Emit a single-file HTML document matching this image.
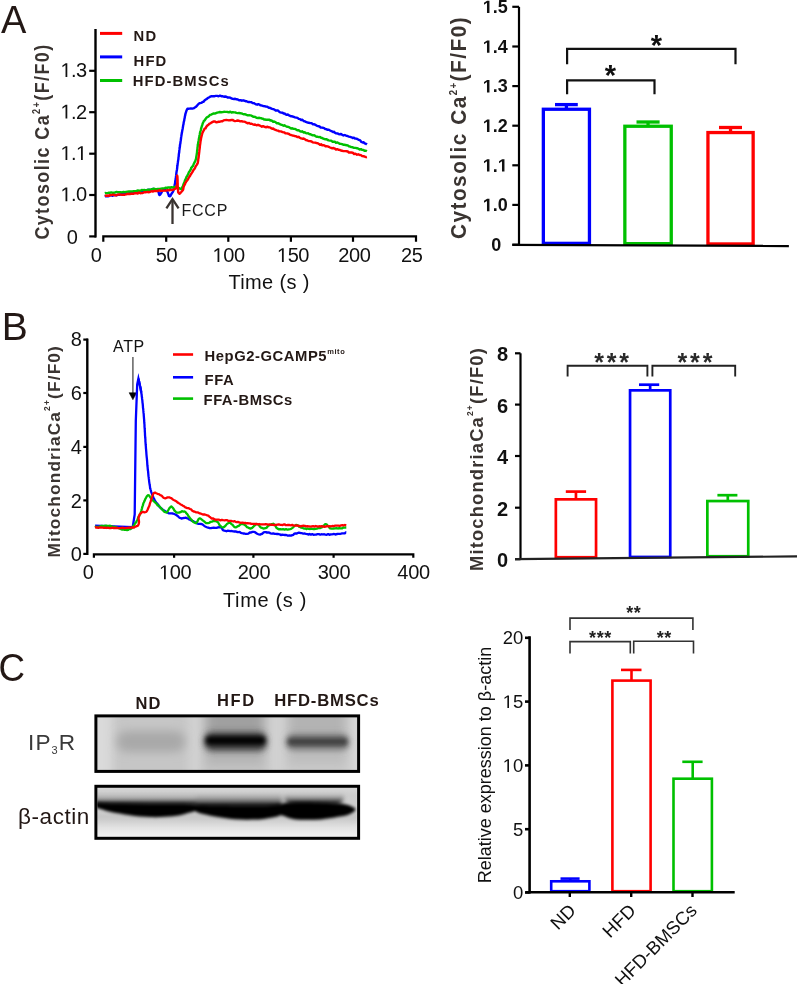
<!DOCTYPE html>
<html><head><meta charset="utf-8"><style>
html,body{margin:0;padding:0;background:#fff;}
svg{display:block;font-family:"Liberation Sans", sans-serif;filter:blur(0.35px);}
</style></head><body>
<svg width="797" height="984" viewBox="0 0 797 984">
<rect width="797" height="984" fill="#fff"/>
<text x="1" y="32.7" font-size="38" font-weight="normal" text-anchor="start" fill="#231815" letter-spacing="0" >A</text>
<line x1="95.5" y1="29" x2="95.5" y2="237.5" stroke="#000" stroke-width="2.4"/>
<line x1="89.2" y1="70.8" x2="96" y2="70.8" stroke="#000" stroke-width="2.2"/>
<line x1="89.2" y1="112.2" x2="96" y2="112.2" stroke="#000" stroke-width="2.2"/>
<line x1="89.2" y1="153.7" x2="96" y2="153.7" stroke="#000" stroke-width="2.2"/>
<line x1="89.2" y1="195.0" x2="96" y2="195.0" stroke="#000" stroke-width="2.2"/>
<line x1="89.2" y1="236.4" x2="96" y2="236.4" stroke="#000" stroke-width="2.2"/>
<text x="60.50" y="77.1" font-size="20" font-weight="normal" fill="#111" letter-spacing="-0.6"> .3</text>
<path transform="translate(60.50,77.1) scale(0.00977,-0.00977)" d="M515,0 L515,1237 L197,1010 L197,1180 L530,1409 L696,1409 L696,0 Z" fill="#111"/>
<text x="60.50" y="118.5" font-size="20" font-weight="normal" fill="#111" letter-spacing="-0.6"> .2</text>
<path transform="translate(60.50,118.5) scale(0.00977,-0.00977)" d="M515,0 L515,1237 L197,1010 L197,1180 L530,1409 L696,1409 L696,0 Z" fill="#111"/>
<text x="60.50" y="159.9" font-size="20" font-weight="normal" fill="#111" letter-spacing="-0.6"> . </text>
<path transform="translate(60.50,159.9) scale(0.00977,-0.00977)" d="M515,0 L515,1237 L197,1010 L197,1180 L530,1409 L696,1409 L696,0 Z" fill="#111"/>
<path transform="translate(75.98,159.9) scale(0.00977,-0.00977)" d="M515,0 L515,1237 L197,1010 L197,1180 L530,1409 L696,1409 L696,0 Z" fill="#111"/>
<text x="60.50" y="201.3" font-size="20" font-weight="normal" fill="#111" letter-spacing="-0.6"> .0</text>
<path transform="translate(60.50,201.3) scale(0.00977,-0.00977)" d="M515,0 L515,1237 L197,1010 L197,1180 L530,1409 L696,1409 L696,0 Z" fill="#111"/>
<text x="77.8" y="243.6" font-size="20" font-weight="normal" text-anchor="end" fill="#111" letter-spacing="0" >0</text>
<path d="M103.3,241.8 L103.3,236.4 L416,236.4 L416,241.8" stroke="#000" stroke-width="2.2" fill="none"/>
<line x1="166.2" y1="236.4" x2="166.2" y2="241.8" stroke="#000" stroke-width="2.2"/>
<line x1="228.3" y1="236.4" x2="228.3" y2="241.8" stroke="#000" stroke-width="2.2"/>
<line x1="290.9" y1="236.4" x2="290.9" y2="241.8" stroke="#000" stroke-width="2.2"/>
<line x1="353.0" y1="236.4" x2="353.0" y2="241.8" stroke="#000" stroke-width="2.2"/>
<text x="96.2" y="262" font-size="20" font-weight="normal" text-anchor="middle" fill="#111" letter-spacing="-0.4" >0</text>
<text x="166.6" y="262" font-size="20" font-weight="normal" text-anchor="middle" fill="#111" letter-spacing="-0.4" >50</text>
<text x="212.52" y="262" font-size="20" font-weight="normal" fill="#111" letter-spacing="-0.4"> 00</text>
<path transform="translate(212.52,262) scale(0.00977,-0.00977)" d="M515,0 L515,1237 L197,1010 L197,1180 L530,1409 L696,1409 L696,0 Z" fill="#111"/>
<text x="276.92" y="262" font-size="20" font-weight="normal" fill="#111" letter-spacing="-0.4"> 50</text>
<path transform="translate(276.92,262) scale(0.00977,-0.00977)" d="M515,0 L515,1237 L197,1010 L197,1180 L530,1409 L696,1409 L696,0 Z" fill="#111"/>
<text x="354.3" y="262" font-size="20" font-weight="normal" text-anchor="middle" fill="#111" letter-spacing="-0.4" >200</text>
<text x="401.0" y="262" font-size="20" font-weight="normal" text-anchor="start" fill="#111" letter-spacing="-0.4" >25</text>
<text x="228.4" y="288.6" font-size="20" font-weight="normal" text-anchor="start" fill="#111" letter-spacing="0.35" >Time (s )</text>
<line x1="100" y1="33.4" x2="122.2" y2="33.4" stroke="#ff0000" stroke-width="3"/>
<line x1="100" y1="56.9" x2="122.2" y2="56.9" stroke="#0000ff" stroke-width="3"/>
<line x1="100" y1="80.5" x2="122.2" y2="80.5" stroke="#00c000" stroke-width="3"/>
<text x="133.6" y="40.9" font-size="14.8" font-weight="bold" text-anchor="start" fill="#231815" letter-spacing="1.1" >ND</text>
<text x="133.6" y="65.7" font-size="14.8" font-weight="bold" text-anchor="start" fill="#231815" letter-spacing="1.1" >HFD</text>
<text x="132.8" y="86.4" font-size="14.8" font-weight="bold" text-anchor="start" fill="#231815" letter-spacing="1.1" >HFD-BMSCs</text>
<text transform="translate(49.0,239.6) rotate(-90) scale(0.91,1)" font-size="19.6" font-weight="bold" fill="#3a3431" letter-spacing="1.62">Cytosolic Ca<tspan font-size="10" dy="-9.5">2+</tspan><tspan dy="9.5">(F/F0)</tspan></text>
<polyline points="104.8,196.6 105.5,196.2 106.2,196.4 107.1,196.1 108.0,196.2 109.1,196.1 110.2,195.4 111.3,195.2 112.6,195.8 113.8,195.1 115.2,194.9 116.5,195.4 117.9,194.7 119.3,194.9 120.7,194.3 122.1,194.3 123.5,193.6 124.8,193.9 126.2,193.9 127.5,193.4 128.8,193.4 130.0,193.0 131.2,193.0 132.5,192.2 133.8,192.7 135.1,192.3 136.4,191.7 137.8,191.2 139.1,191.8 140.5,191.2 141.8,191.2 143.1,191.1 144.4,190.7 145.7,190.7 147.0,190.0 148.2,190.2 149.3,189.7 150.5,190.1 151.5,189.9 152.5,189.0 153.4,189.0 154.3,189.1 155.0,189.4 157.0,190.4 158.1,190.9 158.6,192.4 158.9,193.4 159.1,194.6 159.6,195.0 160.3,194.5 161.0,193.3 161.7,192.2 162.3,190.9 163.0,190.0 164.3,190.1 165.7,190.3 167.0,191.0 167.8,192.7 168.4,194.3 169.0,196.0 169.6,196.3 170.4,196.1 171.2,194.3 172.0,193.0 172.5,192.5 172.9,191.8 173.4,190.8 173.9,189.0 174.4,186.6 174.6,186.0 174.7,184.5 174.9,184.2 175.1,182.8 175.2,181.4 175.4,180.1 175.6,179.6 175.8,178.5 176.0,176.3 176.1,175.7 176.3,173.9 176.5,172.2 176.7,170.9 176.9,170.0 177.1,168.6 177.3,166.3 177.5,165.3 177.6,164.4 177.8,162.7 177.9,162.2 178.1,160.7 178.2,160.1 178.4,159.0 178.5,157.3 178.7,156.5 178.8,154.6 179.0,153.1 179.2,152.3 179.3,150.5 179.5,149.4 179.6,148.3 179.8,147.3 180.0,145.5 180.1,144.2 180.3,143.8 180.5,142.0 180.6,141.4 180.8,140.2 181.0,138.5 181.1,137.5 181.3,136.4 181.5,135.0 181.7,133.8 182.0,132.3 182.2,130.9 182.5,129.5 182.7,128.5 183.0,126.6 183.2,125.2 183.5,124.1 183.7,122.4 184.0,121.2 184.2,120.6 184.4,119.0 184.7,117.9 184.9,116.3 185.1,115.7 185.3,114.9 185.5,113.5 185.7,113.2 186.4,110.8 186.9,109.7 187.4,108.8 188.2,108.8 189.4,108.6 191.0,108.4 192.5,108.6 193.9,108.2 194.9,107.4 195.8,107.0 196.6,106.1 197.6,105.0 198.7,103.8 199.9,103.1 201.2,102.9 202.6,101.9 203.6,101.7 204.7,100.2 205.8,99.5 206.9,98.9 208.0,97.9 208.9,97.5 210.1,96.7 211.1,96.3 212.7,96.3 213.6,96.1 214.7,96.2 215.9,95.9 217.2,95.9 218.6,96.3 220.0,95.6 221.3,96.2 222.7,96.3 223.9,96.7 225.1,96.5 226.3,96.7 227.6,97.6 228.8,97.4 230.1,97.7 231.4,98.3 232.7,98.9 234.0,99.0 235.2,98.8 236.5,99.3 237.8,99.5 239.1,100.3 240.5,100.1 241.8,100.7 243.1,100.3 244.3,100.7 245.5,101.2 246.6,101.3 248.0,102.0 249.3,102.0 250.4,102.1 251.5,102.3 252.6,103.1 253.8,103.1 255.0,103.8 256.1,104.4 257.2,104.7 258.3,104.2 259.4,104.6 260.6,105.4 261.9,105.5 263.4,106.1 265.0,106.3 265.9,106.5 266.9,106.6 267.9,107.1 268.9,107.9 269.9,107.8 271.0,108.3 272.1,108.8 273.3,109.2 274.5,109.6 275.7,110.6 277.0,110.3 278.3,110.7 279.7,112.2 281.1,112.6 282.6,112.8 283.6,113.6 284.6,113.5 285.6,114.4 286.7,114.8 287.8,114.5 289.0,115.4 290.2,116.0 291.3,116.2 292.6,116.5 293.8,116.8 295.0,117.3 296.3,117.6 297.5,117.9 298.7,118.9 300.0,119.1 301.2,120.1 302.4,119.7 303.6,121.0 304.8,121.3 305.9,121.9 307.1,122.3 308.1,122.7 309.2,122.8 310.2,123.1 311.6,123.1 313.0,124.4 314.3,124.3 315.6,124.9 317.0,125.8 318.2,126.1 319.5,126.5 320.7,127.5 321.9,127.6 323.1,127.8 324.2,128.1 325.3,129.1 326.3,129.1 327.3,129.8 328.3,129.7 329.2,129.9 330.0,130.5 331.9,131.3 333.1,132.1 334.1,131.8 334.9,132.8 336.1,133.4 337.8,133.5 338.8,134.1 339.8,134.4 341.0,133.9 342.2,134.9 343.5,135.5 344.8,135.0 346.1,135.6 347.5,136.0 348.9,136.6 350.2,136.9 351.5,137.3 352.7,138.0 353.9,137.6 355.0,138.5 356.3,138.6 357.6,139.2 358.9,139.9 360.2,140.4 361.4,142.0 362.6,142.5 363.7,142.3 364.7,143.3 365.5,143.6 366.3,144.0 366.9,144.5" fill="none" stroke="#0000ff" stroke-width="2.4" stroke-linejoin="round" stroke-miterlimit="10" stroke-linecap="butt"/>
<polyline points="104.8,193.2 105.5,193.0 106.2,193.3 107.1,193.1 108.0,192.9 109.1,192.6 110.2,192.7 111.3,192.4 112.6,192.8 113.8,192.8 115.2,192.4 116.5,192.0 117.9,192.1 119.3,192.2 120.7,192.3 122.1,192.4 123.5,191.9 124.8,192.2 126.2,191.9 127.5,191.6 128.8,191.5 130.0,191.5 131.3,191.4 132.5,191.5 133.8,191.1 135.1,191.2 136.5,190.9 137.8,190.5 139.1,190.7 140.4,190.7 141.7,189.9 143.0,190.2 144.3,190.0 145.6,190.3 146.8,190.3 148.1,189.6 149.3,190.0 150.5,189.7 151.7,189.1 152.8,189.2 153.9,188.7 155.0,189.0 156.5,189.2 157.9,188.9 159.4,189.0 160.8,188.8 162.1,188.5 163.4,188.5 164.7,188.2 165.9,187.7 167.1,188.0 168.2,187.4 169.2,187.4 170.2,188.0 171.1,187.2 172.0,187.6 174.3,187.0 175.7,187.0 176.8,187.8 177.8,187.5 179.1,188.0 180.2,188.8 181.3,189.1 181.8,188.7 182.3,187.0 182.8,186.5 183.3,184.9 183.8,183.5 184.4,182.2 185.0,180.3 185.5,179.3 186.0,178.5 186.6,176.6 187.1,176.2 187.7,174.9 188.3,173.9 188.9,172.2 189.5,171.7 190.1,170.3 190.7,169.7 191.2,167.9 191.8,167.2 192.5,166.4 193.1,165.7 193.7,164.1 194.2,163.0 194.8,161.9 195.3,161.0 195.7,159.6 196.0,158.8 196.2,157.4 196.4,156.2 196.6,155.1 196.8,153.8 197.0,152.6 197.1,151.0 197.2,150.1 197.4,149.3 197.5,147.5 197.7,146.6 197.8,144.7 198.0,144.1 198.2,142.7 198.4,141.6 198.7,140.2 198.9,138.7 199.2,137.3 199.5,136.1 199.7,135.0 200.0,133.0 200.3,131.6 200.5,131.1 200.8,130.1 201.1,128.6 201.4,127.6 201.9,126.0 202.3,124.9 202.8,123.2 203.3,122.2 203.8,121.1 204.5,120.6 205.2,119.5 206.0,118.3 206.9,117.3 207.8,116.9 208.8,116.3 209.9,114.9 211.2,114.6 212.7,113.8 213.7,113.4 214.8,113.6 216.0,113.1 217.2,112.6 218.5,112.3 219.9,112.0 221.2,112.3 222.6,112.1 223.9,111.8 225.3,111.9 226.5,111.9 227.7,112.0 229.0,112.3 230.3,111.7 231.6,112.6 232.8,112.1 234.0,112.4 235.2,112.4 236.4,112.9 237.7,113.1 239.0,113.0 240.3,113.2 241.5,113.4 242.7,113.9 243.9,114.3 245.2,114.2 246.5,114.9 247.8,115.4 249.1,115.3 250.4,115.4 251.6,115.7 252.8,116.5 253.9,116.8 255.0,116.9 256.5,117.8 258.0,118.0 259.4,117.8 260.7,118.1 261.9,118.5 263.0,118.7 264.1,119.5 265.0,119.5 266.4,119.9 267.0,119.7 268.8,119.7 269.6,119.7 270.4,120.6 271.2,120.4 272.1,120.9 273.1,121.7 274.2,121.5 275.4,122.0 276.6,123.2 277.9,123.2 279.4,123.9 280.9,124.7 282.6,125.2 283.5,125.7 284.4,125.3 285.4,126.0 286.5,126.5 287.6,126.9 288.7,127.0 289.9,127.7 291.1,128.5 292.3,128.3 293.5,128.9 294.8,128.9 296.0,129.4 297.3,130.2 298.6,130.1 299.8,131.2 301.1,131.7 302.3,131.3 303.5,132.5 304.7,132.3 305.9,133.1 307.0,133.4 308.1,133.3 309.2,134.0 310.2,134.2 311.6,134.8 312.9,135.4 314.2,135.3 315.4,136.1 316.6,136.7 317.8,136.8 318.9,137.1 320.0,137.0 321.1,137.8 322.2,138.0 323.3,138.7 324.4,139.0 325.5,139.2 326.6,139.2 327.7,140.0 328.8,140.4 330.0,140.6 331.2,140.6 332.4,141.7 333.6,141.8 334.8,141.7 336.0,142.8 337.2,142.4 338.4,143.0 339.6,143.7 340.8,143.9 342.0,144.2 343.2,144.7 344.3,144.8 345.5,145.0 346.7,145.2 347.8,145.4 348.9,146.4 350.0,146.5 351.3,147.1 352.7,147.3 354.1,147.9 355.5,147.9 357.0,148.2 358.3,148.7 359.7,149.6 361.0,149.1 362.2,149.9 363.4,150.0 364.5,150.8 365.4,150.6 366.2,150.8 366.9,151.2" fill="none" stroke="#00c000" stroke-width="2.4" stroke-linejoin="round" stroke-miterlimit="10" stroke-linecap="butt"/>
<polyline points="104.8,195.7 105.5,195.6 106.2,195.7 107.1,195.8 108.0,195.4 109.1,195.8 110.2,195.0 111.3,195.1 112.6,194.8 113.8,194.8 115.2,195.4 116.5,195.2 117.9,194.6 119.3,194.5 120.7,194.6 122.1,194.9 123.5,194.8 124.8,194.7 126.2,194.4 127.5,193.9 128.8,194.0 130.0,194.0 131.3,193.6 132.5,193.8 133.8,193.7 135.1,193.2 136.4,193.1 137.7,193.5 139.0,192.5 140.3,193.2 141.5,193.1 142.8,193.0 144.1,192.3 145.4,192.3 146.6,192.1 147.9,192.0 149.1,192.2 150.3,191.8 151.5,191.2 152.7,191.6 153.9,191.1 155.0,191.0 156.4,191.0 157.9,191.0 159.3,190.2 160.8,190.9 162.2,190.8 163.6,190.6 165.1,190.6 166.4,190.5 167.8,190.2 169.0,190.4 170.2,189.8 171.4,190.1 172.4,190.0 173.4,189.5 174.2,189.3 175.0,188.8 175.9,188.4 176.5,187.1 176.9,184.8 177.2,183.8 177.3,182.0 177.3,179.7 177.2,178.5 177.2,177.1 177.1,175.9 177.1,175.7 177.2,175.6 177.3,176.4 177.4,176.4 177.5,178.0 177.5,179.0 177.6,179.9 177.6,182.1 177.7,183.5 177.7,185.5 177.8,186.9 177.9,188.5 178.0,189.5 178.1,191.2 178.2,192.3 178.4,192.6 179.6,193.8 181.2,192.1 182.6,190.4 183.1,189.9 183.3,188.8 183.5,187.3 184.0,185.8 185.0,184.1 185.4,182.9 185.9,182.2 186.5,181.2 187.1,180.5 187.8,179.6 188.5,178.3 189.2,177.0 190.0,176.0 190.7,174.4 191.5,173.4 192.2,172.4 193.0,170.9 193.7,169.6 194.3,169.2 195.0,168.0 195.5,166.7 196.0,165.9 196.4,165.3 197.5,163.5 197.8,163.0 197.9,162.0 198.2,160.3 198.3,158.9 198.5,158.2 198.6,157.6 198.8,155.7 198.9,154.8 199.1,153.1 199.3,151.7 199.4,150.2 199.6,149.0 199.8,147.3 199.9,145.8 200.1,144.5 200.3,143.2 200.4,142.3 200.6,140.8 200.8,140.2 201.1,138.0 201.4,136.9 201.7,135.5 202.0,134.6 202.4,132.9 202.8,132.2 203.3,131.2 203.9,130.2 204.6,128.6 205.5,128.4 206.4,126.6 207.5,125.4 208.5,124.8 209.5,123.6 210.5,123.3 211.4,122.6 212.7,121.9 213.8,121.5 215.0,121.5 216.2,122.3 217.7,122.0 218.8,121.6 219.9,121.8 221.1,121.2 222.3,121.4 223.6,120.4 224.9,120.1 226.3,120.0 227.7,120.1 228.8,120.4 230.0,120.3 231.2,120.0 232.5,119.9 233.7,120.6 235.0,121.1 236.3,120.9 237.6,120.5 238.9,120.7 240.3,121.4 241.5,121.2 242.7,121.5 243.9,121.6 245.2,121.9 246.5,122.7 247.8,123.3 249.1,122.9 250.4,123.9 251.6,123.7 252.8,124.3 253.9,124.7 255.0,124.5 256.5,125.3 258.0,124.8 259.4,125.4 260.7,126.0 261.9,126.7 263.0,126.1 264.1,126.6 265.0,127.0 266.4,127.4 267.0,126.6 268.8,127.3 269.6,127.4 270.4,127.6 271.2,128.3 272.1,128.8 273.1,128.4 274.2,129.4 275.4,129.8 276.6,130.4 277.9,130.6 279.4,131.4 280.9,131.4 282.6,132.1 283.5,132.3 284.4,132.4 285.4,133.3 286.5,133.4 287.6,133.5 288.7,133.8 289.9,134.7 291.1,135.0 292.3,135.5 293.5,135.6 294.8,136.1 296.0,136.2 297.3,137.1 298.6,136.8 299.8,137.7 301.1,138.4 302.3,138.7 303.5,138.5 304.7,139.1 305.9,140.0 307.0,140.2 308.1,140.8 309.2,141.1 310.2,141.1 311.6,141.5 312.9,142.4 314.2,142.6 315.4,142.6 316.6,143.1 317.8,143.2 318.9,143.9 320.0,144.8 321.1,144.3 322.2,145.2 323.3,145.1 324.4,145.4 325.5,146.3 326.6,146.2 327.7,146.4 328.8,146.8 330.0,147.5 331.2,148.0 332.4,148.2 333.6,148.0 334.8,148.5 336.0,149.6 337.2,149.1 338.4,149.7 339.6,149.9 340.8,150.5 342.0,150.7 343.2,151.1 344.3,151.1 345.5,151.1 346.7,151.3 347.8,151.5 348.9,152.5 350.0,152.5 351.3,152.5 352.7,152.7 354.1,154.0 355.5,153.7 357.0,154.7 358.3,154.3 359.7,155.0 361.0,155.1 362.2,156.1 363.4,156.2 364.5,156.5 365.4,156.9 366.2,157.2 366.9,157.0" fill="none" stroke="#ff0000" stroke-width="2.4" stroke-linejoin="round" stroke-miterlimit="10" stroke-linecap="butt"/>
<line x1="172.5" y1="200" x2="172.5" y2="224" stroke="#3a3431" stroke-width="2.3"/>
<path d="M166.4,208.3 L172.5,199.0 L178.6,208.3" stroke="#3a3431" stroke-width="2.3" fill="none"/>
<text x="181.5" y="216.2" font-size="16" font-weight="normal" text-anchor="start" fill="#1a1a1a" letter-spacing="0.75" >FCCP</text>
<line x1="519" y1="6.8" x2="519" y2="245.8" stroke="#000" stroke-width="2.2"/>
<line x1="512.3" y1="6.8" x2="519" y2="6.8" stroke="#000" stroke-width="2.2"/>
<line x1="512.3" y1="46.5" x2="519" y2="46.5" stroke="#000" stroke-width="2.2"/>
<line x1="512.3" y1="86.1" x2="519" y2="86.1" stroke="#000" stroke-width="2.2"/>
<line x1="512.3" y1="125.7" x2="519" y2="125.7" stroke="#000" stroke-width="2.2"/>
<line x1="512.3" y1="165.3" x2="519" y2="165.3" stroke="#000" stroke-width="2.2"/>
<line x1="512.3" y1="204.9" x2="519" y2="204.9" stroke="#000" stroke-width="2.2"/>
<line x1="512.3" y1="244.7" x2="519" y2="244.7" stroke="#000" stroke-width="2.2"/>
<text x="482.78" y="13.1" font-size="18" font-weight="bold" fill="#111" letter-spacing="0"> .5</text>
<path transform="translate(482.78,13.1) scale(0.00879,-0.00879)" d="M478,0 L478,1170 L140,959 L140,1180 L493,1409 L759,1409 L759,0 Z" fill="#111"/>
<text x="482.78" y="52.8" font-size="18" font-weight="bold" fill="#111" letter-spacing="0"> .4</text>
<path transform="translate(482.78,52.8) scale(0.00879,-0.00879)" d="M478,0 L478,1170 L140,959 L140,1180 L493,1409 L759,1409 L759,0 Z" fill="#111"/>
<text x="482.78" y="92.39999999999999" font-size="18" font-weight="bold" fill="#111" letter-spacing="0"> .3</text>
<path transform="translate(482.78,92.39999999999999) scale(0.00879,-0.00879)" d="M478,0 L478,1170 L140,959 L140,1180 L493,1409 L759,1409 L759,0 Z" fill="#111"/>
<text x="482.78" y="132.0" font-size="18" font-weight="bold" fill="#111" letter-spacing="0"> .2</text>
<path transform="translate(482.78,132.0) scale(0.00879,-0.00879)" d="M478,0 L478,1170 L140,959 L140,1180 L493,1409 L759,1409 L759,0 Z" fill="#111"/>
<text x="482.78" y="171.60000000000002" font-size="18" font-weight="bold" fill="#111" letter-spacing="0"> . </text>
<path transform="translate(482.78,171.60000000000002) scale(0.00879,-0.00879)" d="M478,0 L478,1170 L140,959 L140,1180 L493,1409 L759,1409 L759,0 Z" fill="#111"/>
<path transform="translate(497.79,171.60000000000002) scale(0.00879,-0.00879)" d="M478,0 L478,1170 L140,959 L140,1180 L493,1409 L759,1409 L759,0 Z" fill="#111"/>
<text x="482.78" y="211.20000000000002" font-size="18" font-weight="bold" fill="#111" letter-spacing="0"> .0</text>
<path transform="translate(482.78,211.20000000000002) scale(0.00879,-0.00879)" d="M478,0 L478,1170 L140,959 L140,1180 L493,1409 L759,1409 L759,0 Z" fill="#111"/>
<text x="501.3" y="251.0" font-size="18" font-weight="bold" text-anchor="end" fill="#111" letter-spacing="0" >0</text>
<text transform="translate(466.0,239.0) rotate(-90) scale(0.91,1)" font-size="22.8" font-weight="bold" fill="#3a3431" letter-spacing="1.66">Cytosolic Ca<tspan font-size="10.5" dy="-9">2+</tspan><tspan dy="9">(F/F0)</tspan></text>
<rect x="543.35" y="109.25" width="46.09999999999998" height="134.1" fill="none" stroke="#0000ff" stroke-width="3.3"/>
<line x1="566.4000000000001" y1="104.6" x2="566.4000000000001" y2="109.25" stroke="#0000ff" stroke-width="3.3"/>
<line x1="555" y1="104.6" x2="577.8" y2="104.6" stroke="#0000ff" stroke-width="3.3"/>
<rect x="624.85" y="126.25" width="46.399999999999935" height="117.40000000000002" fill="none" stroke="#00c000" stroke-width="3.3"/>
<line x1="648.05" y1="122.0" x2="648.05" y2="126.25" stroke="#00c000" stroke-width="3.3"/>
<line x1="636.5" y1="122.0" x2="659.6" y2="122.0" stroke="#00c000" stroke-width="3.3"/>
<rect x="707.9499999999999" y="132.55" width="45.2" height="111.39999999999999" fill="none" stroke="#ff0000" stroke-width="3.3"/>
<line x1="730.55" y1="127.5" x2="730.55" y2="132.55" stroke="#ff0000" stroke-width="3.3"/>
<line x1="719" y1="127.5" x2="742" y2="127.5" stroke="#ff0000" stroke-width="3.3"/>
<path d="M512.3,244.9 L788.9,246.0" stroke="#000" stroke-width="2.4" fill="none"/>
<path d="M567.1,64.3 L567.1,48.9 L735.5,48.9 L735.5,64.3" stroke="#111" stroke-width="2.2" fill="none"/>
<path d="M567.1,94.3 L567.1,80.4 L654.5,80.4 L654.5,94.3" stroke="#111" stroke-width="2.2" fill="none"/>
<text x="610.5" y="84.7" font-size="29" font-weight="bold" text-anchor="middle" fill="#111" letter-spacing="0" >*</text>
<text x="656.4" y="54.6" font-size="29" font-weight="bold" text-anchor="middle" fill="#111" letter-spacing="0" >*</text>
<text x="1.7" y="340" font-size="39" font-weight="normal" text-anchor="start" fill="#231815" letter-spacing="0" >B</text>
<line x1="87.3" y1="338.6" x2="87.3" y2="555" stroke="#000" stroke-width="2.4"/>
<line x1="83.3" y1="339.6" x2="88" y2="339.6" stroke="#000" stroke-width="2.2"/>
<line x1="83.3" y1="393.0" x2="88" y2="393.0" stroke="#000" stroke-width="2.2"/>
<line x1="83.3" y1="446.9" x2="88" y2="446.9" stroke="#000" stroke-width="2.2"/>
<line x1="83.3" y1="500.4" x2="88" y2="500.4" stroke="#000" stroke-width="2.2"/>
<line x1="83.3" y1="553.9" x2="88" y2="553.9" stroke="#000" stroke-width="2.2"/>
<text x="81.8" y="346.3" font-size="20" font-weight="normal" text-anchor="end" fill="#111" letter-spacing="0" >8</text>
<text x="81.8" y="400.1" font-size="20" font-weight="normal" text-anchor="end" fill="#111" letter-spacing="0" >6</text>
<text x="81.8" y="454.0" font-size="20" font-weight="normal" text-anchor="end" fill="#111" letter-spacing="0" >4</text>
<text x="81.8" y="507.5" font-size="20" font-weight="normal" text-anchor="end" fill="#111" letter-spacing="0" >2</text>
<text x="81.8" y="561.0" font-size="20" font-weight="normal" text-anchor="end" fill="#111" letter-spacing="0" >0</text>
<path d="M93.9,557.8 L93.9,554.3 L413.3,554.3 L413.3,557.8" stroke="#000" stroke-width="2.2" fill="none"/>
<line x1="174.1" y1="554.3" x2="174.1" y2="557.8" stroke="#000" stroke-width="2.2"/>
<line x1="253.4" y1="554.3" x2="253.4" y2="557.8" stroke="#000" stroke-width="2.2"/>
<line x1="333.6" y1="554.3" x2="333.6" y2="557.8" stroke="#000" stroke-width="2.2"/>
<text x="88.1" y="579.2" font-size="20" font-weight="normal" text-anchor="middle" fill="#111" letter-spacing="-0.3" >0</text>
<text x="158.97" y="579.2" font-size="20" font-weight="normal" fill="#111" letter-spacing="-0.3"> 00</text>
<path transform="translate(158.97,579.2) scale(0.00977,-0.00977)" d="M515,0 L515,1237 L197,1010 L197,1180 L530,1409 L696,1409 L696,0 Z" fill="#111"/>
<text x="254.0" y="579.2" font-size="20" font-weight="normal" text-anchor="middle" fill="#111" letter-spacing="-0.3" >200</text>
<text x="334.0" y="579.2" font-size="20" font-weight="normal" text-anchor="middle" fill="#111" letter-spacing="-0.3" >300</text>
<text x="413.6" y="579.2" font-size="20" font-weight="normal" text-anchor="middle" fill="#111" letter-spacing="-0.3" >400</text>
<text x="223" y="606.8" font-size="20" font-weight="normal" text-anchor="start" fill="#111" letter-spacing="0.65" >Time (s )</text>
<text x="113.1" y="352.3" font-size="16" font-weight="normal" text-anchor="start" fill="#111" letter-spacing="0.6" >ATP</text>
<line x1="132.9" y1="357" x2="132.9" y2="393" stroke="#555" stroke-width="1.4"/>
<path d="M129.1,392.7 L136.7,392.7 L132.9,399.8 Z" stroke="#000" stroke-width="0.5" fill="#000"/>
<line x1="173" y1="354.5" x2="193.1" y2="354.5" stroke="#ff0000" stroke-width="2.6"/>
<line x1="173" y1="377.3" x2="193.1" y2="377.3" stroke="#0000ff" stroke-width="2.6"/>
<line x1="173" y1="398.6" x2="193.1" y2="398.6" stroke="#00c000" stroke-width="2.6"/>
<text x="204.6" y="361.3" font-size="14.8" font-weight="bold" fill="#231815" letter-spacing="0.55">HepG2-GCAMP5<tspan font-size="7.5" dy="-7.5" letter-spacing="0.6">mito</tspan></text>
<text x="204.6" y="385.2" font-size="14.8" font-weight="bold" text-anchor="start" fill="#231815" letter-spacing="0.55" >FFA</text>
<text x="203.6" y="405" font-size="14.8" font-weight="bold" text-anchor="start" fill="#231815" letter-spacing="0.5" >FFA-BMSCs</text>
<text transform="translate(59.7,557.6) rotate(-90)" font-size="17.3" font-weight="bold" fill="#3a3431" letter-spacing="1.15">MitochondriaCa<tspan font-size="8.5" dy="-9.5">2+</tspan><tspan dy="9.5">(F/F0)</tspan></text>
<polyline points="95.1,525.7 132.7,527.1 134.7,514.5 135.8,421.0 137.2,384.4 138.4,378.6 141.3,392.5" fill="none" stroke="#0000ff" stroke-width="2.3" stroke-linejoin="miter" stroke-miterlimit="10" stroke-linecap="butt"/>
<polyline points="138.4,378.6 138.6,379.2 138.8,380.2 139.0,381.1 139.3,381.9 139.5,383.6 139.8,384.8 140.1,386.3 140.5,387.3 140.8,389.2 141.0,390.8 141.3,392.5 141.4,393.7 141.6,394.2 141.7,395.4 141.8,396.6 142.0,397.4 142.1,398.9 142.3,400.2 142.4,401.2 142.5,402.6 142.7,403.8 142.8,404.8 142.9,406.1 143.0,408.0 143.2,408.8 143.3,410.2 143.4,411.2 143.5,412.7 143.7,414.0 143.8,416.0 143.9,417.0 144.0,418.3 144.1,419.5 144.2,420.7 144.2,421.6 144.3,423.0 144.4,423.9 144.5,425.0 144.5,426.6 144.6,427.7 144.7,429.0 144.8,429.8 144.8,431.3 144.9,432.2 145.0,434.0 145.0,435.1 145.1,435.9 145.2,437.7 145.3,438.3 145.4,439.5 145.4,441.3 145.5,442.2 145.6,443.6 145.7,445.0 145.8,445.8 145.9,447.4 146.0,448.8 146.1,449.6 146.2,451.0 146.3,452.2 146.4,453.8 146.5,455.0 146.6,456.0 146.7,457.1 146.9,458.6 147.0,460.0 147.1,461.1 147.2,462.5 147.3,464.3 147.4,465.5 147.6,467.0 147.7,468.3 147.8,469.5 147.9,470.3 148.1,471.4 148.2,472.7 148.3,473.9 148.4,475.1 148.5,476.2 148.7,477.1 148.8,478.4 148.9,478.9 149.0,480.0 149.2,481.8 149.5,483.8 149.7,485.1 149.9,486.0 150.0,487.1 150.2,488.6 150.5,489.0 150.7,490.0 151.0,491.2 151.3,492.2 151.6,492.9 152.0,494.2 152.5,495.0 153.0,496.4 153.6,498.1 154.2,499.0 154.9,500.6 155.6,501.6 156.3,502.9 157.0,503.2 157.7,504.3 158.4,505.1 159.1,506.4 160.1,507.4 161.1,508.3 162.1,509.0 163.1,510.1 164.2,510.5 165.2,511.3 166.3,511.8 167.3,512.5 168.7,513.3 170.1,513.3 171.5,513.4 172.9,513.5 174.2,514.0 175.4,514.5 176.6,515.2 177.7,516.0 178.7,517.1 179.7,517.8 180.6,518.0 181.5,518.6 182.9,518.2 184.2,518.0 185.6,517.6 186.7,518.2 188.0,518.5 189.3,519.5 190.5,520.0 191.7,520.6 193.0,521.1 194.2,521.8 195.3,522.3 196.5,523.2 197.6,523.6 198.7,523.8 199.9,523.9 201.4,524.0 202.4,524.4 203.4,525.2 204.6,526.1 205.7,526.8 207.0,527.3 208.3,527.7 209.6,528.1 210.9,528.2 212.2,527.9 213.7,527.7 215.2,527.9 216.6,527.9 218.0,527.4 219.2,527.2 220.2,527.3 221.5,527.8 222.2,528.8 222.9,530.1 224.3,530.6 225.3,530.8 226.4,531.3 227.6,530.7 229.0,530.9 230.3,531.1 231.7,531.0 233.1,531.4 234.5,531.5 235.7,531.4 237.0,532.0 238.3,532.1 239.6,532.0 240.8,532.8 242.0,533.2 243.2,533.5 244.4,533.5 245.5,533.8 247.0,533.8 248.4,533.6 249.8,532.5 251.1,532.5 252.4,531.9 253.6,531.9 255.0,532.2 256.4,533.2 257.7,534.0 258.9,534.4 260.1,534.6 261.3,534.0 262.3,533.8 263.5,532.4 265.0,532.2 266.0,532.1 267.0,532.6 268.1,532.4 269.3,532.6 270.6,533.4 271.9,533.7 273.3,533.4 274.8,533.8 275.9,533.9 277.0,534.0 278.3,534.0 279.6,534.3 280.9,535.1 282.3,534.6 283.6,534.9 284.9,535.0 286.2,535.0 287.4,535.5 288.5,535.7 289.5,535.5 291.0,535.6 292.3,535.1 293.4,534.8 294.4,533.6 295.4,533.4 296.5,533.6 297.7,533.0 298.8,532.6 299.9,532.9 301.0,533.2 302.1,533.2 303.3,533.7 304.6,533.5 306.0,533.9 307.5,534.2 308.6,534.6 309.7,534.0 310.9,534.7 312.2,534.1 313.5,534.8 314.8,534.6 316.1,534.6 317.5,534.2 318.9,534.1 320.3,534.7 321.6,534.2 323.0,534.5 324.2,534.2 325.4,534.7 326.7,534.8 328.1,534.1 329.4,534.8 330.7,534.4 332.1,534.3 333.4,534.0 334.7,534.2 335.9,534.6 337.0,534.0 338.1,533.8 339.1,533.8 340.0,534.0 342.0,533.4 343.6,533.3 344.7,533.4 345.6,532.4 346.3,532.5" fill="none" stroke="#0000ff" stroke-width="2.3" stroke-linejoin="round" stroke-miterlimit="10" stroke-linecap="butt"/>
<polyline points="95.0,527.1 95.8,526.7 96.8,527.1 98.1,527.0 99.5,526.7 101.0,525.9 102.4,525.8 103.9,526.1 105.2,525.7 106.4,525.7 107.7,526.0 108.9,525.8 110.1,525.7 111.4,526.2 112.6,526.7 113.8,527.0 115.0,527.0 116.2,527.4 117.4,527.7 118.7,528.2 119.9,528.6 121.1,529.1 122.3,529.7 123.5,529.5 124.6,529.8 125.8,529.9 127.1,530.0 128.2,529.8 129.4,528.9 130.5,529.0 131.6,528.2 132.7,527.0 133.4,526.0 134.1,525.1 134.8,524.0 135.5,522.8 136.2,522.3 136.8,520.6 137.5,519.7 138.1,517.8 138.7,516.5 139.3,516.0 139.8,514.5 140.3,513.5 140.8,512.4 141.3,510.8 141.7,509.4 142.0,508.3 142.4,506.5 142.8,505.6 143.1,504.4 143.5,503.0 143.9,502.3 144.6,500.8 145.3,499.0 146.0,497.8 146.7,496.5 147.4,495.6 148.0,495.2 149.0,495.3 150.0,496.9 151.0,498.3 151.9,499.6 152.9,500.5 153.9,501.4 155.1,502.3 155.9,503.3 156.7,503.8 157.6,505.3 158.6,505.6 159.5,506.4 160.4,507.6 161.2,508.4 162.3,509.7 163.3,510.5 164.3,511.8 165.3,512.2 166.3,512.5 167.1,512.3 168.0,510.7 168.8,509.3 169.6,507.9 170.5,507.1 171.3,506.4 172.1,507.2 172.9,507.8 173.7,509.1 174.5,510.6 175.4,511.4 176.4,512.5 177.6,512.6 179.0,512.7 180.4,512.2 181.9,511.2 183.3,511.6 184.5,511.5 185.5,512.0 186.4,513.4 187.2,514.0 187.9,515.1 188.7,516.6 189.6,517.6 190.6,519.0 191.6,519.8 192.7,521.4 193.8,522.3 194.8,522.8 195.7,523.2 196.6,522.6 197.4,521.5 198.1,520.0 198.9,518.7 199.8,518.3 200.8,518.7 201.8,519.7 203.0,520.6 204.1,521.4 205.2,522.4 206.3,523.2 207.8,523.1 209.3,522.8 210.7,521.8 212.0,521.6 213.3,521.0 214.5,521.0 215.6,521.0 216.9,521.6 217.8,522.0 218.7,523.5 219.6,525.1 220.6,526.0 221.6,527.1 222.6,527.3 223.6,527.3 224.7,526.5 225.8,525.4 227.0,523.9 228.1,523.2 229.2,522.7 230.3,522.7 231.4,524.1 232.5,524.8 233.5,526.0 234.6,527.2 235.7,527.3 236.8,526.9 237.8,526.2 238.8,525.9 239.9,524.9 241.0,523.9 242.2,524.0 243.3,523.9 244.5,524.9 245.7,525.5 246.9,527.1 248.1,527.5 249.3,528.2 250.4,528.6 251.6,528.2 252.7,527.4 253.8,526.2 254.8,525.3 255.8,524.5 256.9,524.0 257.9,524.3 258.9,524.9 259.9,526.7 261.0,527.6 262.1,527.9 263.4,528.6 264.4,528.4 265.5,528.2 266.6,527.7 267.8,526.2 269.0,525.3 270.2,524.9 271.3,524.2 272.3,524.2 273.2,523.7 274.4,524.4 275.1,525.2 275.8,526.6 276.7,528.1 278.1,528.9 279.1,529.4 280.3,529.1 281.7,529.3 283.1,529.1 284.6,529.6 286.1,529.1 287.5,529.7 288.9,529.3 290.1,529.1 291.1,528.9 292.5,527.9 293.5,527.0 294.2,526.1 294.9,525.6 296.0,524.9 296.9,525.1 297.9,525.3 298.9,526.6 300.0,527.0 301.2,527.6 302.6,528.0 304.2,528.6 305.2,528.5 306.3,529.1 307.5,528.5 308.8,528.9 310.2,529.0 311.5,528.7 312.9,529.0 314.3,529.1 315.6,528.9 316.9,528.7 318.0,528.2 319.1,527.9 320.0,528.1 321.6,527.5 322.7,526.6 323.6,525.5 324.4,525.2 325.1,524.1 326.0,524.1 327.0,524.8 327.8,525.9 328.7,526.5 329.9,528.3 331.6,528.6 332.6,528.6 333.7,528.5 335.0,528.4 336.4,528.2 337.8,528.5 339.3,528.2 340.8,528.4 342.2,528.3 343.4,527.5 344.6,527.6 345.6,527.5 346.3,527.5" fill="none" stroke="#00c000" stroke-width="2.3" stroke-linejoin="round" stroke-miterlimit="10" stroke-linecap="butt"/>
<polyline points="95.0,527.7 95.7,527.4 96.4,527.5 97.3,527.5 98.2,527.9 99.2,527.6 100.3,527.4 101.4,527.5 102.7,527.7 103.9,527.9 105.2,527.6 106.6,528.0 108.0,527.7 109.4,528.1 110.9,528.0 112.4,527.7 113.8,528.2 115.3,527.9 116.8,528.0 118.3,528.1 119.8,528.1 121.2,528.0 122.6,527.6 124.0,528.2 125.4,528.2 126.7,527.9 127.9,527.9 129.1,527.5 130.2,528.0 131.3,527.7 132.3,527.2 133.2,527.6 134.0,527.5 134.7,527.0 136.7,526.1 138.0,525.6 138.7,524.0 139.0,522.5 139.0,521.5 138.8,519.9 138.6,518.9 138.6,517.6 138.8,516.6 139.6,514.6 140.4,513.7 141.1,513.1 141.9,512.1 143.2,511.9 144.6,512.3 145.9,512.0 146.6,511.6 147.2,510.4 147.7,509.4 148.3,508.1 149.0,506.4 149.4,505.7 149.8,504.0 150.2,502.6 150.6,501.7 151.1,500.1 151.5,498.5 151.9,497.6 152.3,496.4 152.7,495.1 153.0,494.2 154.0,492.9 155.1,492.6 156.2,493.2 157.5,493.8 158.9,494.2 160.2,495.2 161.5,495.6 162.8,497.1 164.0,498.0 165.2,498.3 166.5,497.9 167.7,497.3 169.3,497.3 170.2,497.8 171.3,498.1 172.5,499.2 173.7,499.9 175.0,500.6 176.2,501.2 177.4,502.3 178.4,503.0 179.5,503.5 180.6,504.5 181.7,504.8 182.8,505.7 183.8,506.1 184.8,506.9 185.6,507.4 187.4,508.2 188.7,508.2 190.0,509.0 191.2,509.4 192.3,510.7 193.7,511.5 194.8,511.7 195.9,512.3 197.2,512.4 198.5,512.7 199.8,513.4 201.0,513.7 202.3,514.3 203.6,514.5 204.9,514.5 206.3,515.0 207.3,515.4 208.3,515.7 209.3,516.6 210.3,517.3 211.5,518.5 212.9,518.4 214.5,519.2 215.5,519.8 216.6,519.6 217.8,519.7 219.1,519.7 220.4,520.4 221.8,519.8 223.1,520.2 224.5,520.3 225.9,520.1 227.2,520.2 228.5,521.0 229.7,520.9 230.8,520.8 232.2,521.2 233.5,521.5 234.6,521.1 235.7,521.8 236.7,522.1 237.9,521.9 239.1,522.3 240.5,522.9 242.2,522.7 243.2,522.7 244.2,523.1 245.3,522.8 246.4,523.3 247.6,523.1 248.8,523.4 250.1,523.4 251.3,523.9 252.6,523.9 253.9,523.8 255.3,524.0 256.6,523.9 258.0,524.3 259.3,524.0 260.7,524.3 262.1,524.4 263.4,524.4 264.6,524.4 265.8,524.1 267.0,524.3 268.3,524.7 269.6,524.4 270.9,524.8 272.2,524.6 273.6,525.0 274.9,525.0 276.2,524.9 277.5,524.6 278.8,524.3 280.1,524.8 281.4,524.9 282.6,525.1 283.7,524.5 284.9,524.5 285.9,525.2 287.0,525.1 287.9,524.9 289.6,525.0 291.0,525.3 292.2,524.9 293.3,525.4 294.2,525.6 295.2,525.7 296.2,525.4 297.3,525.5 298.5,526.0 300.0,526.0 301.1,526.4 302.2,525.8 303.5,525.7 304.8,525.8 306.1,526.4 307.5,526.2 308.9,526.3 310.4,526.7 311.8,526.4 313.1,526.2 314.5,526.6 315.8,526.0 317.0,526.3 318.1,526.6 319.1,526.2 320.0,526.5 321.9,526.2 322.9,526.6 323.5,526.4 324.5,526.9 326.4,526.4 327.3,526.0 328.4,526.5 329.6,526.1 330.9,526.4 332.3,526.0 333.7,526.1 335.2,525.7 336.7,525.6 338.2,525.7 339.7,525.9 341.1,525.4 342.4,525.2 343.6,525.3 344.7,525.0 345.6,525.1 346.3,525.2" fill="none" stroke="#ff0000" stroke-width="2.3" stroke-linejoin="round" stroke-miterlimit="10" stroke-linecap="butt"/>
<line x1="520.5" y1="353.3" x2="520.5" y2="559.8" stroke="#000" stroke-width="2.2"/>
<line x1="515" y1="353.3" x2="520.5" y2="353.3" stroke="#000" stroke-width="2.2"/>
<line x1="515" y1="404.6" x2="520.5" y2="404.6" stroke="#000" stroke-width="2.2"/>
<line x1="515" y1="456.0" x2="520.5" y2="456.0" stroke="#000" stroke-width="2.2"/>
<line x1="515" y1="507.7" x2="520.5" y2="507.7" stroke="#000" stroke-width="2.2"/>
<line x1="515" y1="559.2" x2="520.5" y2="559.2" stroke="#000" stroke-width="2.2"/>
<text x="508.0" y="361.40000000000003" font-size="20" font-weight="bold" text-anchor="end" fill="#111" letter-spacing="0" >8</text>
<text x="508.0" y="412.70000000000005" font-size="20" font-weight="bold" text-anchor="end" fill="#111" letter-spacing="0" >6</text>
<text x="508.0" y="464.1" font-size="20" font-weight="bold" text-anchor="end" fill="#111" letter-spacing="0" >4</text>
<text x="508.0" y="515.8" font-size="20" font-weight="bold" text-anchor="end" fill="#111" letter-spacing="0" >2</text>
<text x="508.0" y="567.3000000000001" font-size="20" font-weight="bold" text-anchor="end" fill="#111" letter-spacing="0" >0</text>
<text transform="translate(482.7,571.0) rotate(-90)" font-size="18.3" font-weight="bold" fill="#3a3431" letter-spacing="1.2">MitochondriaCa<tspan font-size="8.5" dy="-9.7">2+</tspan><tspan dy="9.7">(F/F0)</tspan></text>
<rect x="555.85" y="499.35" width="40.199999999999974" height="57.90000000000002" fill="none" stroke="#ff0000" stroke-width="2.7"/>
<line x1="575.95" y1="491.6" x2="575.95" y2="499.35" stroke="#ff0000" stroke-width="2.7"/>
<line x1="565.8" y1="491.6" x2="586.1" y2="491.6" stroke="#ff0000" stroke-width="2.7"/>
<rect x="630.0500000000001" y="390.35" width="40.199999999999974" height="166.59999999999997" fill="none" stroke="#0000ff" stroke-width="2.7"/>
<line x1="650.1500000000001" y1="384.7" x2="650.1500000000001" y2="390.35" stroke="#0000ff" stroke-width="2.7"/>
<line x1="639" y1="384.7" x2="659.2" y2="384.7" stroke="#0000ff" stroke-width="2.7"/>
<rect x="707.35" y="501.05" width="40.90000000000002" height="55.20000000000003" fill="none" stroke="#00c000" stroke-width="2.7"/>
<line x1="727.8" y1="495.2" x2="727.8" y2="501.05" stroke="#00c000" stroke-width="2.7"/>
<line x1="717.4" y1="495.2" x2="737.4" y2="495.2" stroke="#00c000" stroke-width="2.7"/>
<path d="M515,559.2 L797,556.4" stroke="#222" stroke-width="2.2" fill="none"/>
<path d="M567.6,376.4 L567.6,365.8 L647.4,365.8 L647.4,376.4" stroke="#222" stroke-width="1.9" fill="none"/>
<path d="M652.4,376.4 L652.4,365.8 L735.2,365.8 L735.2,376.4" stroke="#222" stroke-width="1.9" fill="none"/>
<text x="613.0" y="371.3" font-size="25" font-weight="bold" text-anchor="middle" fill="#2a2a2a" letter-spacing="2.8" >***</text>
<text x="696.4" y="371.3" font-size="25" font-weight="bold" text-anchor="middle" fill="#2a2a2a" letter-spacing="2.8" >***</text>
<text x="0" y="0" font-size="39.5" font-weight="normal" text-anchor="start" fill="#231815" letter-spacing="0" transform="translate(-1.6,680.6) scale(0.93,1)">C</text>
<text x="28.0" y="749.7" font-size="22.6" fill="#3a3a3a" letter-spacing="1.1">IP<tspan font-size="11" dy="4.5">3</tspan><tspan dy="-4.5">R</tspan></text>
<text x="18.0" y="824.4" font-size="22.5" font-weight="normal" text-anchor="start" fill="#231815" letter-spacing="0.57" >β-actin</text>
<text x="135.5" y="708.8" font-size="16.5" font-weight="bold" text-anchor="start" fill="#231815" letter-spacing="1.0" >ND</text>
<text x="217.0" y="706.3" font-size="16.5" font-weight="bold" text-anchor="start" fill="#231815" letter-spacing="1.6" >HFD</text>
<text x="274.2" y="705.8" font-size="16.7" font-weight="bold" text-anchor="start" fill="#231815" letter-spacing="0.78" >HFD-BMSCs</text>
<defs>
<filter id="b15" x="-20%" y="-50%" width="140%" height="200%"><feGaussianBlur stdDeviation="1.5"/></filter>
<filter id="b2" x="-30%" y="-60%" width="160%" height="220%"><feGaussianBlur stdDeviation="2.2"/></filter>
<filter id="b3" x="-30%" y="-100%" width="160%" height="300%"><feGaussianBlur stdDeviation="3"/></filter>
<filter id="b4" x="-30%" y="-100%" width="160%" height="300%"><feGaussianBlur stdDeviation="4"/></filter>
<filter id="b5" x="-40%" y="-100%" width="180%" height="300%"><feGaussianBlur stdDeviation="5"/></filter>
<filter id="b28" x="-30%" y="-100%" width="160%" height="300%"><feGaussianBlur stdDeviation="2.8"/></filter>
<clipPath id="c1"><rect x="97.4" y="717.4" width="259.5" height="52.6"/></clipPath>
<clipPath id="c2"><rect x="97.4" y="787.8" width="259.5" height="49.3"/></clipPath>
<linearGradient id="g2" x1="0" y1="787" x2="0" y2="837" gradientUnits="userSpaceOnUse">
<stop offset="0" stop-color="#d8d8d8"/><stop offset="0.16" stop-color="#cdcdcd"/><stop offset="0.6" stop-color="#d0d0d0"/><stop offset="0.75" stop-color="#dedede"/><stop offset="1" stop-color="#f1f1f1"/></linearGradient>
</defs>
<g clip-path="url(#c1)">
<rect x="97" y="717" width="260" height="54" fill="#d1d1d1"/>
<g filter="url(#b4)">
<rect x="80" y="705" width="30" height="80" fill="#dadada"/>
<rect x="114" y="705" width="74" height="80" fill="#c6c6c6"/>
<rect x="202" y="705" width="66" height="80" fill="#c3c3c3"/>
<rect x="285" y="705" width="64" height="80" fill="#c9c9c9"/>
<rect x="351" y="705" width="20" height="80" fill="#d6d6d6"/>
</g>
<rect x="117" y="731" width="68" height="21" rx="9" fill="#a9a9a9" filter="url(#b5)"/>
<rect x="207" y="708" width="56" height="28" fill="#a0a0a0" filter="url(#b5)"/>
<rect x="207" y="746" width="56" height="18" fill="#b4b4b4" filter="url(#b5)"/>
<rect x="289" y="708" width="56" height="29" fill="#b3b3b3" filter="url(#b5)"/>
<rect x="289" y="746" width="56" height="18" fill="#bdbdbd" filter="url(#b5)"/>
<rect x="204" y="732" width="63" height="19" rx="8" fill="#3a3a3a" filter="url(#b3)"/>
<rect x="206" y="736.5" width="59" height="8" rx="4" fill="#000" filter="url(#b2)"/>
<rect x="286" y="734" width="63" height="16" rx="7" fill="#707070" filter="url(#b3)"/>
<rect x="288" y="738.5" width="59" height="6.5" rx="3" fill="#404040" filter="url(#b2)"/>
</g>
<rect x="95.9" y="715.9" width="262.7" height="55.5" fill="none" stroke="#000" stroke-width="3"/>
<g clip-path="url(#c2)">
<rect x="97" y="787" width="260" height="51" fill="url(#g2)"/>
<defs>
<linearGradient id="h1" x1="0" y1="792" x2="0" y2="804" gradientUnits="userSpaceOnUse"><stop offset="0" stop-color="#000" stop-opacity="0"/><stop offset="0.5" stop-color="#000" stop-opacity="0.12"/><stop offset="0.8" stop-color="#000" stop-opacity="0.5"/><stop offset="1" stop-color="#000" stop-opacity="1"/></linearGradient>
<linearGradient id="h2" x1="0" y1="793" x2="0" y2="806" gradientUnits="userSpaceOnUse"><stop offset="0" stop-color="#000" stop-opacity="0.0"/><stop offset="0.4" stop-color="#000" stop-opacity="0.2"/><stop offset="0.75" stop-color="#000" stop-opacity="0.6"/><stop offset="1" stop-color="#000" stop-opacity="1"/></linearGradient>
<linearGradient id="h3" x1="0" y1="793.5" x2="0" y2="803.5" gradientUnits="userSpaceOnUse"><stop offset="0" stop-color="#000" stop-opacity="0.0"/><stop offset="0.4" stop-color="#000" stop-opacity="0.2"/><stop offset="0.75" stop-color="#000" stop-opacity="0.6"/><stop offset="1" stop-color="#000" stop-opacity="1"/></linearGradient>
</defs>
<g filter="url(#b2)">
<rect x="90" y="786" width="106" height="20" fill="url(#h1)"/>
<rect x="196" y="786" width="86" height="22" fill="url(#h2)"/>
<rect x="284" y="786" width="60" height="19" rx="8" fill="url(#h3)"/>
</g>
<path d="M90.0,802.8 C95.0,802.3 110.0,803.1 120.0,803.3 C130.0,803.5 140.0,803.7 150.0,803.8 C160.0,803.9 172.6,803.7 180.0,803.8 C187.4,803.9 191.2,804.2 194.5,804.4 C197.8,804.6 195.8,804.9 200.0,805.0 C204.2,805.1 211.7,805.2 220.0,805.3 C228.3,805.4 241.7,805.6 250.0,805.6 C258.3,805.6 264.8,805.4 270.0,805.2 C275.2,805.0 278.3,804.6 281.0,804.2 C283.7,803.8 282.8,803.3 286.0,803.0 C289.2,802.7 292.7,802.3 300.0,802.3 C307.3,802.3 322.3,802.6 330.0,803.0 C337.7,803.4 341.9,803.7 346.0,804.5 C350.1,805.3 353.0,807.0 354.5,808.0 C356.0,809.0 355.8,809.5 355.0,810.5 C354.2,811.5 352.5,812.9 350.0,813.9 C347.5,814.9 345.0,815.7 340.0,816.6 C335.0,817.5 326.7,819.0 320.0,819.5 C313.3,820.0 305.0,819.9 300.0,819.7 C295.0,819.5 293.1,819.0 290.0,818.2 C286.9,817.5 283.8,815.4 281.5,815.2 C279.2,815.0 278.8,816.2 276.0,816.8 C273.2,817.4 268.5,818.3 265.0,818.8 C261.5,819.3 260.0,819.5 255.0,819.6 C250.0,819.7 241.7,819.8 235.0,819.3 C228.3,818.8 220.8,817.5 215.0,816.5 C209.2,815.5 203.3,814.1 200.0,813.2 C196.7,812.3 196.7,811.3 195.0,811.2 C193.3,811.1 192.5,811.9 190.0,812.6 C187.5,813.3 184.2,814.5 180.0,815.2 C175.8,815.9 170.0,816.5 165.0,816.8 C160.0,817.1 155.8,817.4 150.0,817.1 C144.2,816.8 136.7,816.1 130.0,815.2 C123.3,814.3 115.5,813.1 110.0,811.8 C104.5,810.5 100.3,808.6 97.0,807.6 C93.7,806.6 91.2,806.8 90.0,806.0 C88.8,805.2 85.0,803.2 90.0,802.8 Z" fill="#000" filter="url(#b15)"/>
<rect x="92" y="815" width="268" height="6" fill="#000" opacity="0.08" filter="url(#b4)"/>
</g>
<rect x="95.9" y="786.3" width="262.7" height="52" fill="none" stroke="#000" stroke-width="3"/>
<line x1="529.6" y1="636.3" x2="529.6" y2="893.5" stroke="#000" stroke-width="2.6"/>
<line x1="525" y1="637.8" x2="529.6" y2="637.8" stroke="#000" stroke-width="2.6"/>
<line x1="525" y1="701.6" x2="529.6" y2="701.6" stroke="#000" stroke-width="2.6"/>
<line x1="525" y1="765.4" x2="529.6" y2="765.4" stroke="#000" stroke-width="2.6"/>
<line x1="525" y1="829.2" x2="529.6" y2="829.2" stroke="#000" stroke-width="2.6"/>
<line x1="525" y1="892.5" x2="529.6" y2="892.5" stroke="#000" stroke-width="2.6"/>
<text x="523.3" y="644.3" font-size="18.5" font-weight="normal" text-anchor="end" fill="#111" letter-spacing="0" >20</text>
<text x="502.72" y="708.1" font-size="18.5" font-weight="normal" fill="#111" letter-spacing="0"> 5</text>
<path transform="translate(502.72,708.1) scale(0.00903,-0.00903)" d="M515,0 L515,1237 L197,1010 L197,1180 L530,1409 L696,1409 L696,0 Z" fill="#111"/>
<text x="502.72" y="771.9" font-size="18.5" font-weight="normal" fill="#111" letter-spacing="0"> 0</text>
<path transform="translate(502.72,771.9) scale(0.00903,-0.00903)" d="M515,0 L515,1237 L197,1010 L197,1180 L530,1409 L696,1409 L696,0 Z" fill="#111"/>
<text x="523.3" y="835.7" font-size="18.5" font-weight="normal" text-anchor="end" fill="#111" letter-spacing="0" >5</text>
<text x="523.3" y="899.0" font-size="18.5" font-weight="normal" text-anchor="end" fill="#111" letter-spacing="0" >0</text>
<text x="0" y="0" font-size="18" font-weight="normal" text-anchor="start" fill="#111" letter-spacing="0" transform="translate(490.5,883.3) rotate(-90)">Relative expression to β-actin</text>
<line x1="569.8" y1="892.5" x2="569.8" y2="897" stroke="#000" stroke-width="2.4"/>
<line x1="631.2" y1="892.5" x2="631.2" y2="897" stroke="#000" stroke-width="2.4"/>
<line x1="692.5" y1="892.5" x2="692.5" y2="897" stroke="#000" stroke-width="2.4"/>
<rect x="551.1999999999999" y="881.3" width="38.20000000000007" height="9.9" fill="none" stroke="#0000ff" stroke-width="2.6"/>
<line x1="570.3" y1="878.6" x2="570.3" y2="881.3" stroke="#0000ff" stroke-width="2.6"/>
<line x1="560.5" y1="878.6" x2="579.6" y2="878.6" stroke="#0000ff" stroke-width="2.6"/>
<rect x="612.4" y="680.5999999999999" width="38.19999999999995" height="210.60000000000005" fill="none" stroke="#ff0000" stroke-width="2.6"/>
<line x1="631.5" y1="669.9" x2="631.5" y2="680.5999999999999" stroke="#ff0000" stroke-width="2.6"/>
<line x1="621" y1="669.9" x2="641.5" y2="669.9" stroke="#ff0000" stroke-width="2.6"/>
<rect x="673.5" y="778.6999999999999" width="38.4" height="112.50000000000003" fill="none" stroke="#00c000" stroke-width="2.6"/>
<line x1="692.7" y1="761.8" x2="692.7" y2="778.6999999999999" stroke="#00c000" stroke-width="2.6"/>
<line x1="682.3" y1="761.8" x2="702.6" y2="761.8" stroke="#00c000" stroke-width="2.6"/>
<line x1="525.5" y1="892.3" x2="734.7" y2="892.3" stroke="#000" stroke-width="2.6"/>
<path d="M570,630.1 L570,618.1 L692.9,618.1 L692.9,630.1" stroke="#333" stroke-width="1.6" fill="none"/>
<path d="M570,653.6 L570,641.6 L630.3,641.6 L630.3,653.6" stroke="#333" stroke-width="1.6" fill="none"/>
<path d="M633.7,653.6 L633.7,641.2 L693.5,641.2 L693.5,653.6" stroke="#333" stroke-width="1.6" fill="none"/>
<text x="633.8" y="619.3" font-size="18" font-weight="bold" text-anchor="middle" fill="#222" letter-spacing="0.6" >**</text>
<text x="600.5" y="644.3" font-size="18" font-weight="bold" text-anchor="middle" fill="#222" letter-spacing="0.6" >***</text>
<text x="664.3" y="644.3" font-size="18" font-weight="bold" text-anchor="middle" fill="#222" letter-spacing="0.6" >**</text>
<text x="0" y="0" font-size="18.5" font-weight="normal" text-anchor="end" fill="#111" letter-spacing="0" transform="translate(577,911.8) rotate(-45)">ND</text>
<text x="0" y="0" font-size="18.5" font-weight="normal" text-anchor="end" fill="#111" letter-spacing="0" transform="translate(637,911.8) rotate(-45)">HFD</text>
<text x="0" y="0" font-size="18.5" font-weight="normal" text-anchor="end" fill="#111" letter-spacing="0" transform="translate(698,911.8) rotate(-45)">HFD-BMSCs</text>
</svg>
</body></html>
